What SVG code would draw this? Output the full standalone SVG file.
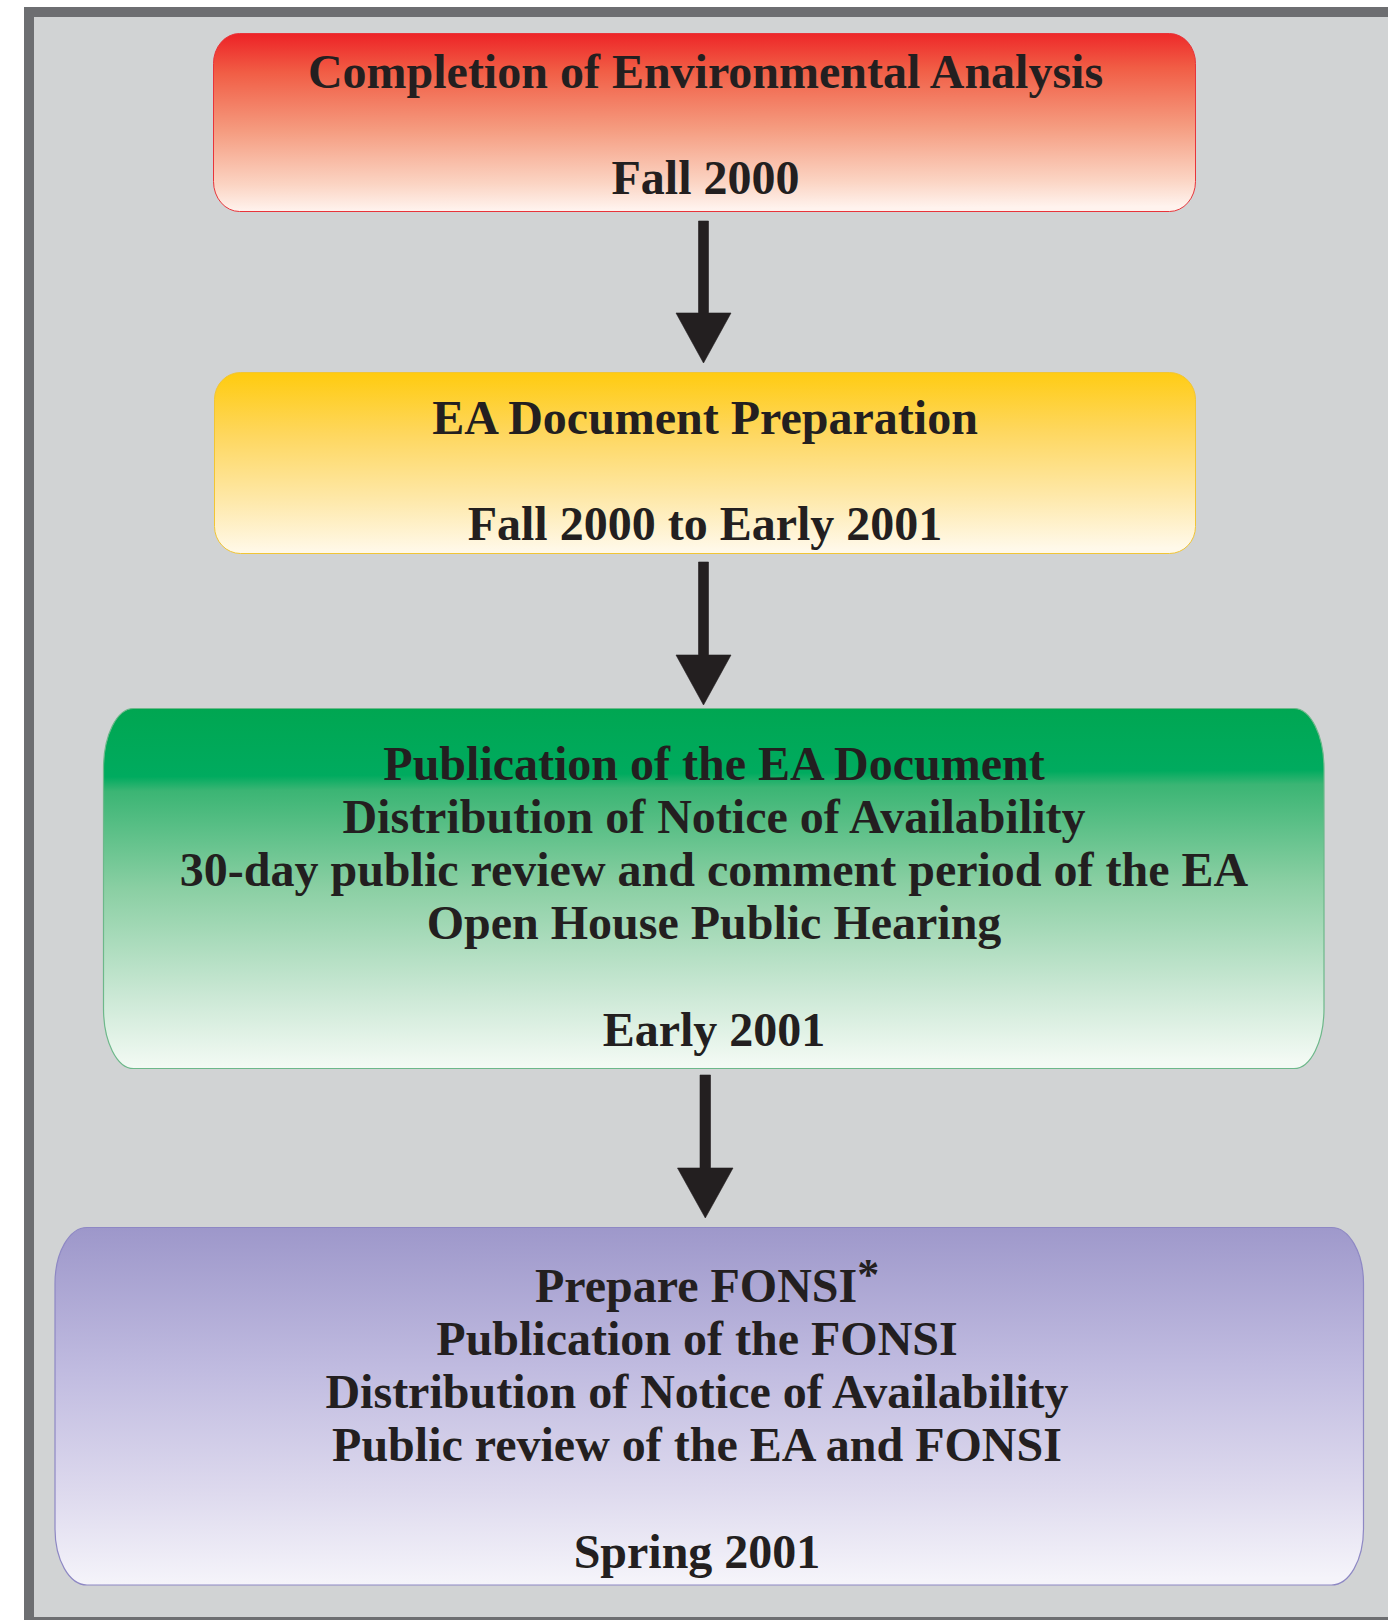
<svg xmlns="http://www.w3.org/2000/svg" width="1388" height="1620" viewBox="0 0 1388 1620">
<style>
.t{font-family:"Liberation Serif","Times New Roman",serif;font-weight:bold;font-size:48px;fill:#231f20;text-anchor:middle}
.arrow{fill:#231f20;stroke:#231f20;stroke-width:0.6}
</style>
<defs>
<linearGradient id="gRed" x1="0" y1="0" x2="0.03" y2="1">
<stop offset="0" stop-color="#ed2226"/>
<stop offset="0.22" stop-color="#f15d45"/>
<stop offset="0.55" stop-color="#f59c80"/>
<stop offset="0.85" stop-color="#fbd4c3"/>
<stop offset="1" stop-color="#fff3ee"/>
</linearGradient>
<linearGradient id="gYel" x1="0" y1="0" x2="0.03" y2="1">
<stop offset="0" stop-color="#ffcb0e"/>
<stop offset="0.35" stop-color="#fed75f"/>
<stop offset="0.7" stop-color="#fee8a8"/>
<stop offset="1" stop-color="#fff9ea"/>
</linearGradient>
<linearGradient id="gGrn" x1="0" y1="0" x2="0.02" y2="1">
<stop offset="0" stop-color="#00a651"/>
<stop offset="0.19" stop-color="#00ab5f"/>
<stop offset="0.23" stop-color="#3bb574"/>
<stop offset="0.5" stop-color="#8acfa3"/>
<stop offset="0.8" stop-color="#cbe8d5"/>
<stop offset="1" stop-color="#f3faf4"/>
</linearGradient>
<linearGradient id="gPur" x1="0" y1="0" x2="0.02" y2="1">
<stop offset="0" stop-color="#9d97ca"/>
<stop offset="0.4" stop-color="#c0bbe0"/>
<stop offset="0.75" stop-color="#dedaee"/>
<stop offset="1" stop-color="#f5f4fa"/>
</linearGradient>
</defs>
<rect x="0" y="0" width="1388" height="1620" fill="#ffffff"/>
<rect x="29" y="12" width="1400" height="1610" fill="#d1d3d4" stroke="#6d6e71" stroke-width="10"/>

<g id="connectors">
<polygon class="arrow" points="698.5,221 708.5,221 708.5,313 731,313 703.5,363 676,313 698.5,313"/>
<polygon class="arrow" points="698.5,562 708.5,562 708.5,655 731,655 703.5,705 676,655 698.5,655"/>
<polygon class="arrow" points="700,1075 710.5,1075 710.5,1168 733,1168 705.3,1218 677.5,1168 700,1168"/>
</g>

<g id="node-completion">
<rect x="213.5" y="33.5" width="982" height="178" rx="26" ry="30" fill="url(#gRed)" stroke="#e8343a" stroke-width="1"/>
<text class="t" x="705.5" y="88">Completion of Environmental Analysis</text>
<text class="t" x="705.5" y="194">Fall 2000</text>
</g>

<g id="node-ea-prep">
<rect x="214.5" y="372.5" width="981" height="181" rx="26" ry="27" fill="url(#gYel)" stroke="#f1c535" stroke-width="1"/>
<text class="t" x="705" y="434">EA Document Preparation</text>
<text class="t" x="705" y="540">Fall 2000 to Early 2001</text>
</g>

<g id="node-publication">
<rect x="103.5" y="708.5" width="1220.5" height="360" rx="30" ry="60" fill="url(#gGrn)" stroke="#6db88a" stroke-width="1.2"/>
<text class="t" x="714" y="780">Publication of the EA Document</text>
<text class="t" x="714" y="833">Distribution of Notice of Availability</text>
<text class="t" x="714" y="886">30-day public review and comment period of the EA</text>
<text class="t" x="714" y="939">Open House Public Hearing</text>
<text class="t" x="714" y="1046">Early 2001</text>
</g>

<g id="node-fonsi">
<rect x="55" y="1227.5" width="1308.5" height="357.5" rx="32" ry="56" fill="url(#gPur)" stroke="#8e88c4" stroke-width="1.2"/>
<text class="t" x="535" y="1302" style="text-anchor:start">Prepare FONSI<tspan font-size="44" dy="-13">*</tspan></text>
<text class="t" x="697" y="1355">Publication of the FONSI</text>
<text class="t" x="697" y="1408">Distribution of Notice of Availability</text>
<text class="t" x="697" y="1461">Public review of the EA and FONSI</text>
<text class="t" x="697" y="1568">Spring 2001</text>
</g>
</svg>
